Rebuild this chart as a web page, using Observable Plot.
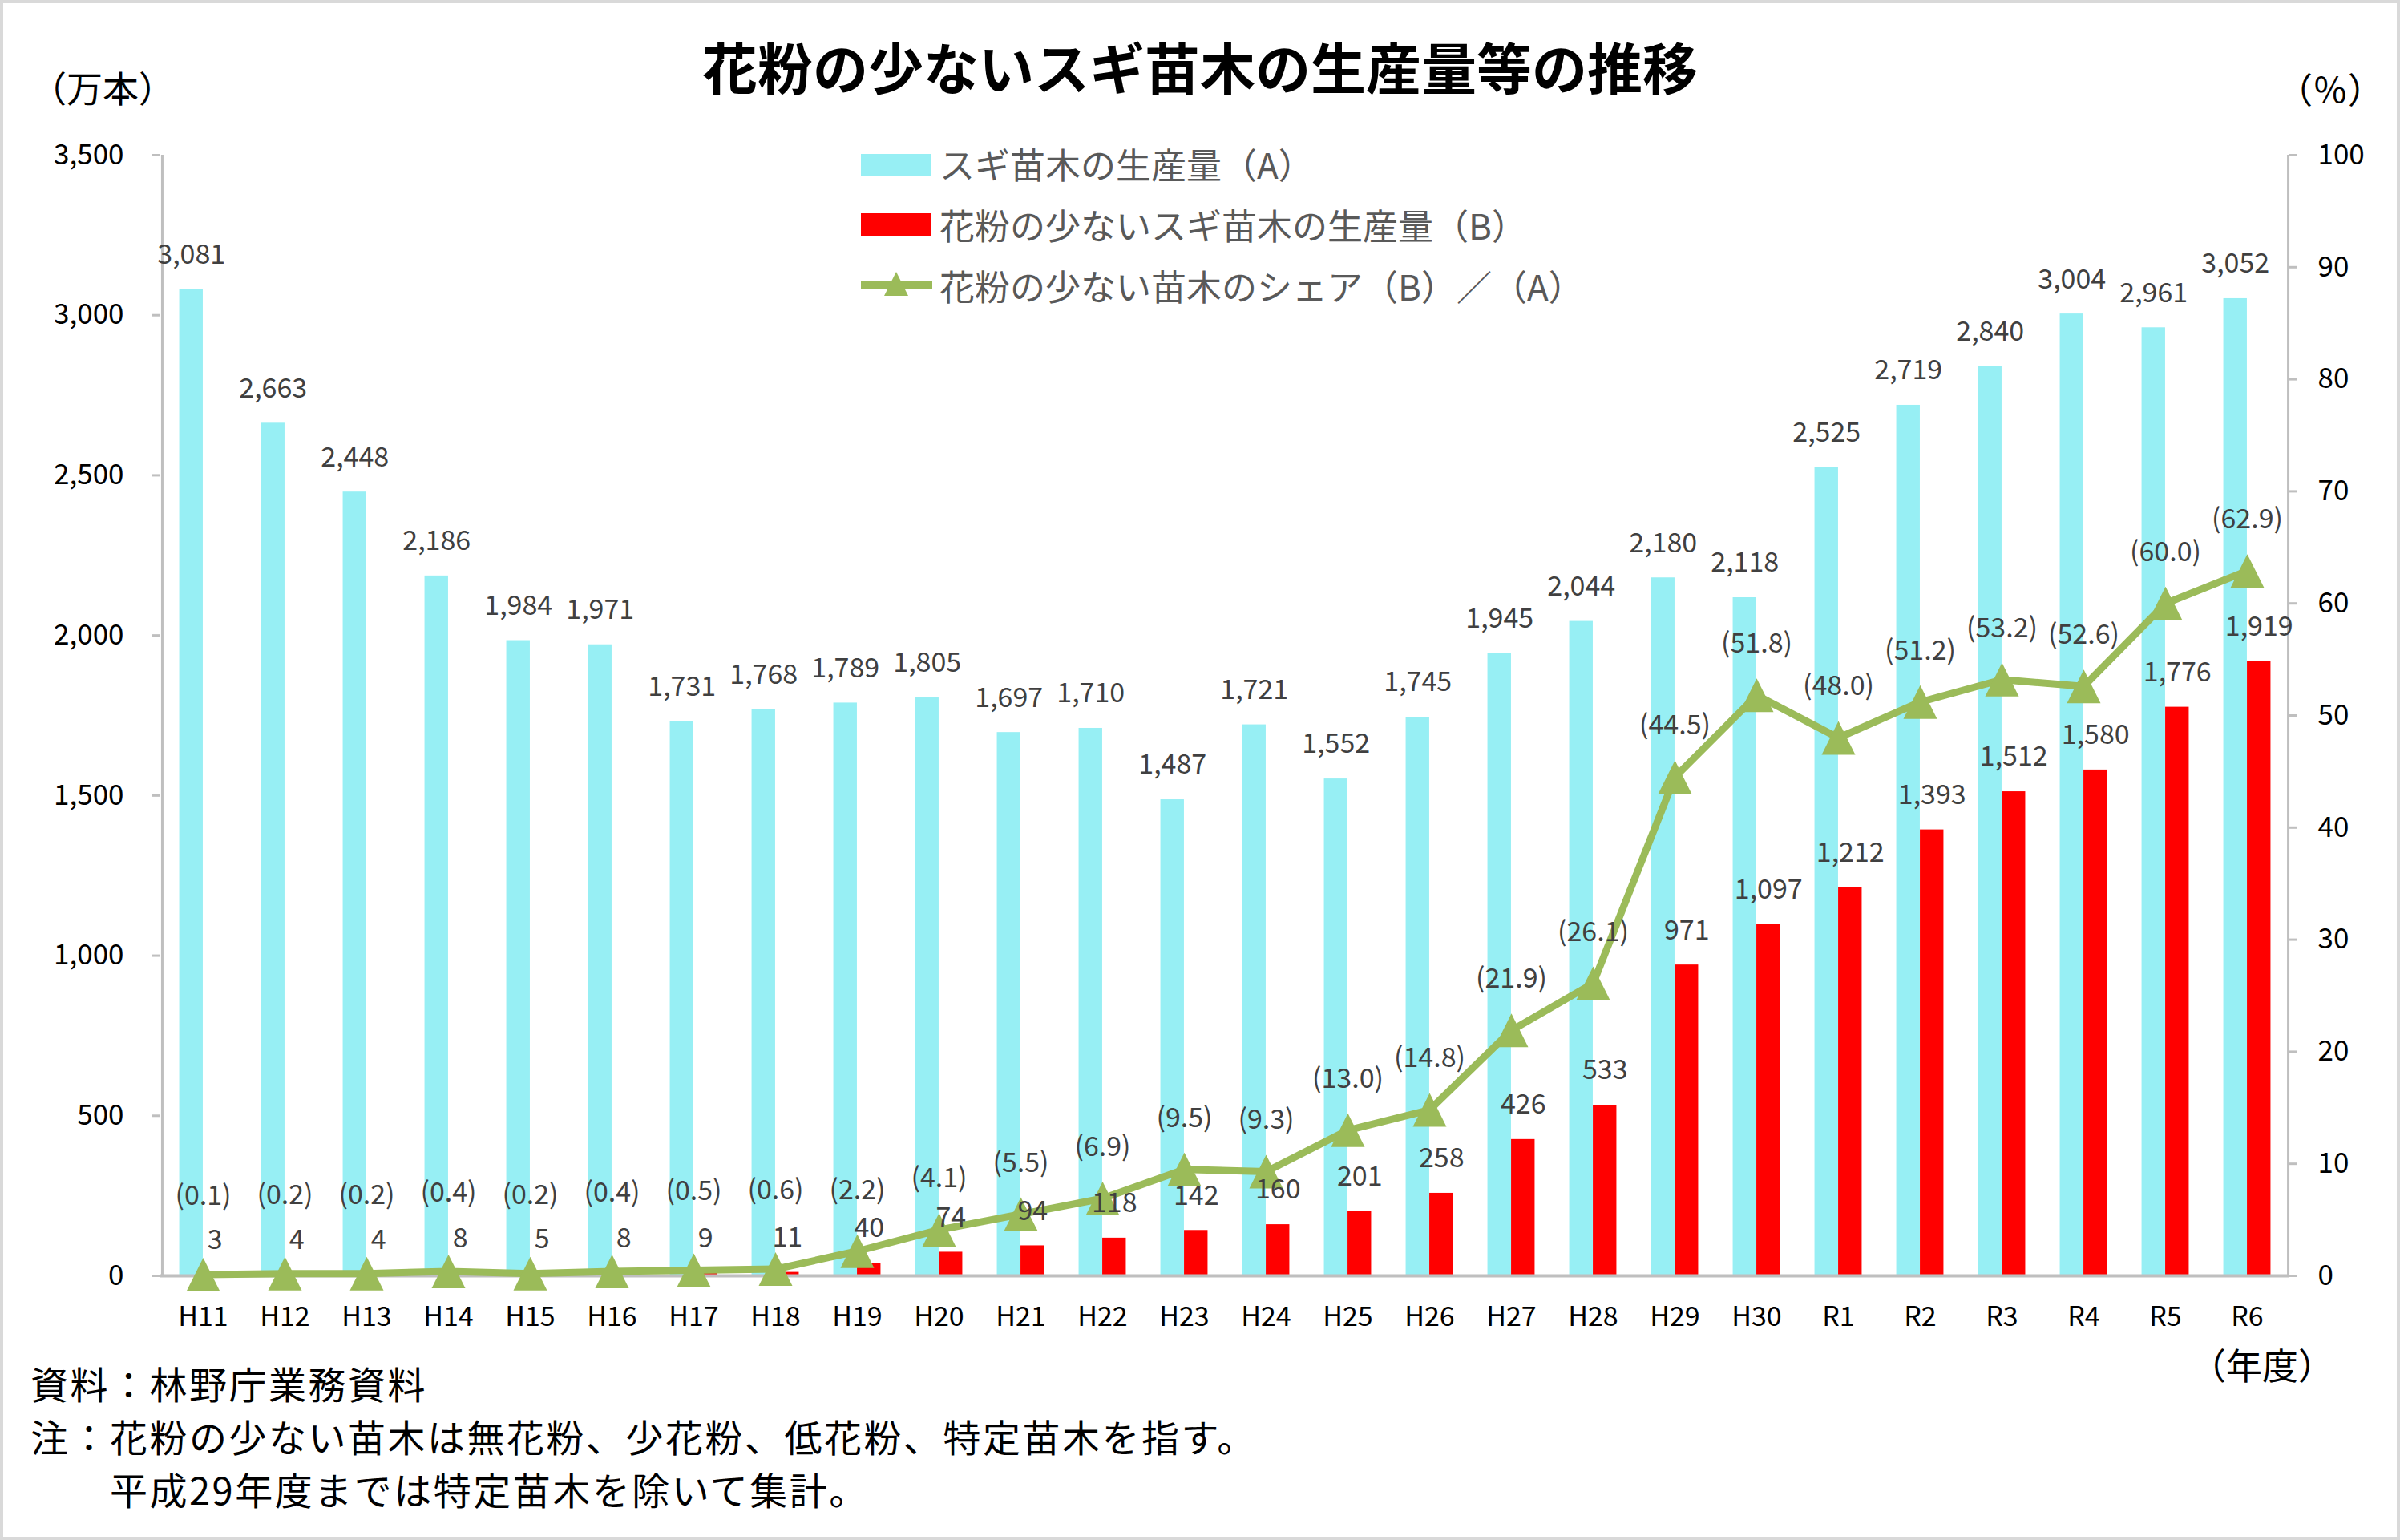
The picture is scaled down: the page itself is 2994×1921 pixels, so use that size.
<!DOCTYPE html>
<html><head><meta charset="utf-8">
<script src="https://cdn.jsdelivr.net/npm/d3@7"></script>
<script src="https://cdn.jsdelivr.net/npm/@observablehq/plot@0.6"></script>
<style>
html,body{margin:0;padding:0;background:#fff;}
#wrap{position:relative;width:2994px;height:1921px;overflow:hidden;background:#fff;font-family:'Noto Sans CJK JP','Noto Sans',sans-serif;}
#border{position:absolute;left:0;top:0;width:2994px;height:1921px;box-sizing:border-box;border:4px solid #d9d9d9;pointer-events:none;}
.t{position:absolute;white-space:nowrap;line-height:1;}
#chart{position:absolute;left:0;top:0;}
</style></head><body><div id="wrap"><div id="chart"></div><div id="border"></div></div>
<script>
// ---- data ----
const years = ["H11","H12","H13","H14","H15","H16","H17","H18","H19","H20","H21","H22","H23","H24","H25","H26","H27","H28","H29","H30","R1","R2","R3","R4","R5","R6"];
const seedlingsA = [3081,2663,2448,2186,1984,1971,1731,1768,1789,1805,1697,1710,1487,1721,1552,1745,1945,2044,2180,2118,2525,2719,2840,3004,2961,3052];
const lowPollenB = [3,4,4,8,5,8,9,11,40,74,94,118,142,160,201,258,426,533,971,1097,1212,1393,1512,1580,1776,1919];
const shareBA = [0.1,0.2,0.2,0.4,0.2,0.4,0.5,0.6,2.2,4.1,5.5,6.9,9.5,9.3,13.0,14.8,21.9,26.1,44.5,51.8,48.0,51.2,53.2,52.6,60.0,62.9];
const leftTicks = [0,500,1000,1500,2000,2500,3000,3500];
const rightTicks = [0,10,20,30,40,50,60,70,80,90,100];

const titleText = "花粉の少ないスギ苗木の生産量等の推移";
const legendLabels = ["スギ苗木の生産量（A）","花粉の少ないスギ苗木の生産量（B）","花粉の少ない苗木のシェア（B）／（A）"];
const notes = ["資料：林野庁業務資料","注：花粉の少ない苗木は無花粉、少花粉、低花粉、特定苗木を指す。","平成29年度までは特定苗木を除いて集計。"];

// ---- layout ----
const W = 2994, H = 1700;
const mL = 200, mR = 139, mT = 193, mB = 109;
const bw = (W - mL - mR) / years.length;
const barW = 29.5;
const YMAX = 3500, K = YMAX / 100;
const FONT = "'Noto Sans CJK JP','Noto Sans',sans-serif";
const CYAN = "#97EFF4", RED = "#FF0000", GREEN = "#9BBB59", AXIS = "#BFBFBF", LBL = "#404040";

const rows = years.map((c, i) => ({c, i, a: seedlingsA[i], b: lowPollenB[i], s: shareBA[i]}));
const fmt = d3.format(",");
const pct = d => `(${d.s.toFixed(1)})`;
const tri = {draw(ctx, size) { const h = Math.sqrt(size / Math.PI) * 1.4; ctx.moveTo(0, -h); ctx.lineTo(h, h); ctx.lineTo(-h, h); ctx.closePath(); }};

const plot = Plot.plot({
  width: W, height: H, marginLeft: mL, marginRight: mR, marginTop: mT, marginBottom: mB,
  style: {fontFamily: FONT, fontSize: "34px", background: "transparent", overflow: "visible"},
  x: {type: "band", domain: years, padding: 0, label: null},
  y: {domain: [0, YMAX], label: null},
  marks: [
    Plot.barY(rows, {x: "c", y: "a", fill: CYAN, insetLeft: bw / 2 - barW, insetRight: bw / 2}),
    Plot.barY(rows, {x: "c", y: "b", fill: RED, insetLeft: bw / 2, insetRight: bw / 2 - barW}),
    Plot.ruleY([0], {stroke: AXIS, strokeWidth: 4}),
    Plot.ruleX([years[0]], {x: d => d, y1: 0, y2: YMAX, dx: -bw / 2, stroke: AXIS, strokeWidth: 3}),
    Plot.ruleX([years[years.length - 1]], {x: d => d, y1: 0, y2: YMAX, dx: bw / 2, stroke: AXIS, strokeWidth: 3}),
    Plot.axisX({tickSize: 0, tickPadding: 38, fontSize: 34, fill: "#000", label: null}),
    Plot.axisY({anchor: "left", ticks: leftTicks, tickSize: 10, tickPadding: 36, tickFormat: fmt, stroke: AXIS, strokeWidth: 3, fill: "#000", fontSize: 35, label: null}),
    Plot.axisY({anchor: "right", ticks: rightTicks.map(v => v * K), tickSize: 10, tickPadding: 26, tickFormat: d => String(Math.round(d / K)), stroke: AXIS, strokeWidth: 3, fill: "#000", fontSize: 35, label: null}),
    Plot.line(rows, {x: "c", y: d => d.s * K, stroke: GREEN, strokeWidth: 9, strokeLinejoin: "round"}),
    Plot.dot(rows, {x: "c", y: d => d.s * K, symbol: tri, r: 15, fill: GREEN, stroke: "none"}),
    Plot.text(rows, {x: "c", y: "a", text: d => fmt(d.a), dx: -barW / 2, dy: -43, fill: LBL, fontSize: 34}),
    Plot.text(rows, {x: "c", y: "b", text: d => fmt(d.b), dx: barW / 2, dy: -43, fill: LBL, fontSize: 34}),
    Plot.text(rows, {filter: d => d.i < 8, x: "c", y: d => d.s * K, text: pct, dy: -98, fill: LBL, fontSize: 34}),
    Plot.text(rows, {filter: d => d.i === 8, x: "c", y: d => d.s * K, text: pct, dy: -76, fill: LBL, fontSize: 34}),
    Plot.text(rows, {filter: d => d.i > 8, x: "c", y: d => d.s * K, text: pct, dy: -64, fill: LBL, fontSize: 34})
  ]
});
document.getElementById("chart").appendChild(plot);

// ---- text helpers ----
const wrap = document.getElementById("wrap");
function put(txt, x, y, size, o = {}) {
  const d = document.createElement("div");
  d.className = "t"; d.textContent = txt;
  d.style.left = x + "px"; d.style.top = y + "px"; d.style.fontSize = size + "px";
  const ax = o.anchor === "middle" ? "-50%" : o.anchor === "end" ? "-100%" : "0";
  d.style.transform = `translate(${ax},-50%)`;
  d.style.color = o.color || "#000";
  d.style.fontWeight = o.weight || "400";
  if (o.ls) d.style.letterSpacing = o.ls + "px";
  wrap.appendChild(d);
  return d;
}
put(titleText, 1497, 82, 69, {anchor: "middle", weight: "700"});
put("（万本）", 128, 108, 45, {anchor: "middle"});
put("（％）", 2907, 110, 44, {anchor: "middle"});
put("（年度）", 2822, 1701, 45, {anchor: "middle"});

// legend
const leg = document.createElement("div");
leg.style.cssText = "position:absolute;left:0;top:0;";
leg.innerHTML = `<svg width="2994" height="420" style="position:absolute;left:0;top:0;overflow:visible">
<rect x="1074" y="192" width="87" height="28" fill="${CYAN}"/>
<rect x="1074" y="266" width="87" height="28" fill="${RED}"/>
<line x1="1074" y1="355" x2="1163" y2="355" stroke="${GREEN}" stroke-width="10"/>
<path d="M1118,339 L1133,369 L1103,369 Z" fill="${GREEN}"/></svg>`;
wrap.appendChild(leg);
legendLabels.forEach((t, i) => put(t, 1172, 204 + i * 76, 44, {color: "#595959"}));

// notes
put(notes[0], 38, 1724, 47, {ls: 2.5});
put(notes[1], 38, 1790, 47, {ls: 2.5});
put(notes[2], 137, 1856, 47, {ls: 2.5});
</script></body></html>
